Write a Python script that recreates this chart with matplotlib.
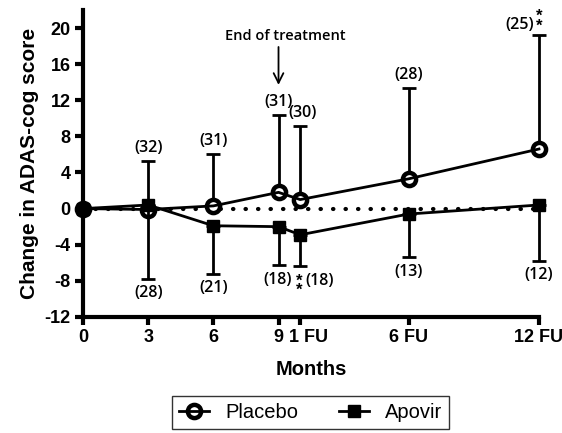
import numpy as np
import matplotlib.pyplot as plt
from matplotlib.lines import Line2D
from matplotlib.transforms import ScaledTranslation

months = [0, 3, 6, 9, 10, 15, 21]
tick_labels = ['0', '3', '6', '9', '1 FU', '6 FU', '12 FU']

placebo = [0, -0.1, 0.3, 1.8, 1.0, 3.3, 6.6]
placebo_err = [0, 5.4, 5.8, 8.6, 8.2, 10.1, 12.6]
placebo_n = ['', '(32)', '(31)', '(31)', '(30)', '(28)', '(25)']

apovir = [0, 0.4, -1.9, -2.0, -2.9, -0.6, 0.4]
apovir_err = [0, 8.2, 5.3, 4.3, 3.5, 4.8, 6.2]
apovir_n = ['', '(28)', '(21)', '(18)', '(18)', '(13)', '(12)']

plt.rcParams['font.family'] = ['Liberation Sans', 'DejaVu Sans']
plt.rcParams['axes.unicode_minus'] = False
fig = plt.figure(figsize=(5.62, 4.33), dpi=100)
ax = fig.add_axes([0.148, 0.268, 0.811, 0.709])

ax.plot([0, 21], [0, 0], color='black', lw=3, ls=(0, (0.1, 2.9)),
        dash_capstyle='round', zorder=1)

z = np.zeros(len(months))
# placebo: bars, white disc, line, then the thick ring on top
ax.errorbar(months, placebo, yerr=[z, placebo_err], fmt='none', ecolor='black',
            elinewidth=2, capsize=5, capthick=2, zorder=2, clip_on=False)
ax.plot(months, placebo, ls='none', marker='o', ms=9.5, mfc='white', mec='white',
        zorder=3, clip_on=False)
ax.plot(months, placebo, color='black', lw=2, zorder=4, clip_on=False)
ax.plot(months, placebo, ls='none', marker='o', ms=9.5, mfc='none', mec='black',
        mew=3.2, zorder=5, clip_on=False)

ax.errorbar(months, apovir, yerr=[apovir_err, z], color='black', lw=2,
            capsize=5, capthick=2, marker='s', ms=8, mfc='black', mec='black',
            zorder=6, clip_on=False)

lab_font = dict(family='Open Sans', fontsize=11.5, fontweight='semibold')
up_dx = {3: 0.0, 4: 0.1}
dn_dx = {3: -0.05, 4: 0.9}
for i in range(1, len(months) - 1):
    top = placebo[i] + placebo_err[i]
    ax.text(months[i] + up_dx.get(i, 0), top + 0.55, placebo_n[i],
            ha='center', va='bottom', **lab_font)
for i in range(1, len(months)):
    bot = apovir[i] - apovir_err[i]
    ax.text(months[i] + dn_dx.get(i, 0), bot - 0.7, apovir_n[i],
            ha='center', va='top', **lab_font)

# last placebo label sits to the left of the bar, with the stars beside it
ax.text(20.75, placebo[6] + placebo_err[6] + 0.3, placebo_n[6],
        ha='right', va='bottom', **lab_font)
ax.text(21.0, placebo[6] + placebo_err[6] + 0.2, '*\n*', ha='center', va='bottom',
        fontsize=12, fontweight='bold', linespacing=0.55)
ax.text(9.95, apovir[3] - apovir_err[3] - 0.9, '*\n*', ha='center', va='top',
        fontsize=12, fontweight='bold', linespacing=0.55)

ax.text(9.3, 19.1, 'End of treatment', ha='center', va='center',
        family='Open Sans', fontsize=10.5, fontweight='semibold')
ax.annotate('', xy=(9, 13.7), xytext=(9, 17.9),
            arrowprops=dict(arrowstyle='->,head_length=0.7,head_width=0.35',
                            lw=1.3, color='black', shrinkA=0, shrinkB=0))

ax.set_xlim(0, 21)
ax.set_ylim(-12, 22)
ax.set_xticks(months)
ax.set_xticklabels(tick_labels)
ax.set_yticks(range(-12, 21, 4))
ax.tick_params(width=3, length=6, labelsize=13, pad=3)
for t in ax.get_xticklabels() + ax.get_yticklabels():
    t.set_fontweight('bold')
lab = ax.get_xticklabels()[4]
lab.set_transform(lab.get_transform() + ScaledTranslation(8 / 100, 0, fig.dpi_scale_trans))
for s in ['left', 'bottom']:
    ax.spines[s].set_linewidth(3)
for s in ['top', 'right']:
    ax.spines[s].set_visible(False)

ax.set_xlabel('Months', fontsize=14.5, fontweight='bold', labelpad=10)
ax.set_ylabel('Change in ADAS-cog score', fontsize=15, fontweight='bold', labelpad=4)

handles = [Line2D([], [], color='black', lw=2, marker='o', ms=9.5, mfc='none',
                  mec='black', mew=3.2),
           Line2D([], [], color='black', lw=2, marker='s', ms=8, mfc='black')]
leg = fig.legend(handles, ['Placebo', 'Apovir'], loc='center',
                 bbox_to_anchor=(0.553, 0.048), ncol=2,
                 fancybox=False, edgecolor='black', fontsize=14.5,
                 handlelength=1.5, columnspacing=2.0, borderpad=0.35,
                 handletextpad=0.8)
leg.get_frame().set_linewidth(1)

fig.savefig('out.png', dpi=100)
